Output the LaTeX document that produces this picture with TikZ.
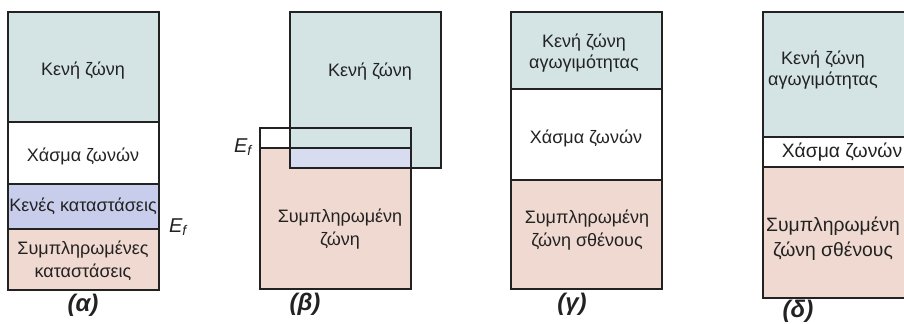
\documentclass[tikz,border=0pt]{standalone}
\usepackage{fontspec}
\setmainfont{Liberation Sans}
\definecolor{emptyband}{HTML}{D4E4E4}
\definecolor{emptystates}{HTML}{C9CDEC}
\definecolor{filledband}{HTML}{EFD9D0}
\definecolor{overlapband}{HTML}{D8DCF1}
\definecolor{ink}{HTML}{222222}
\begin{document}
\begin{tikzpicture}[x=0.75pt,y=-0.75pt,
  outline/.style={draw=ink,line width=1.1pt},
  txt/.style={font=\fontsize{13.5}{17.5}\selectfont,text=ink,align=center,inner sep=0pt},
  txttop/.style={txt,font=\fontsize{13.5}{15.5}\selectfont},
  txtbig/.style={txt,font=\fontsize{14.5}{18.5}\selectfont},
  caption/.style={font=\fontsize{18}{20}\selectfont\bfseries\itshape,text=ink,inner sep=0pt},
  fermi/.style={font=\fontsize{15}{17}\selectfont\itshape,text=ink,inner sep=0pt}]
\clip (0,0) rectangle (904,324);

% (a) metal: partly filled band
\fill[emptyband] (8,12) rectangle (159,122);
\fill[emptystates] (8,184) rectangle (159,229);
\fill[filledband] (8,229) rectangle (159,290);
\draw[outline] (8,12) rectangle (159,290);
\draw[outline] (8,122) -- (159,122);
\draw[outline] (8,184) -- (159,184);
\draw[outline] (8,229) -- (159,229);
\node[txt] (a1) at (83,71) {Κενή ζώνη};
\node[txt] (a2) at (83,156) {Χάσμα ζωνών};
\node[txt] (a3) at (83,206) {Κενές καταστάσεις};
\node[txt] (a4) at (83,261) {Συμπληρωμένες\\καταστάσεις};
\node[fermi] (aef) at (178,227) {E\textsubscript{f}};
\node[caption] (acap) at (83,305) {(α)};

% (b) overlapping bands
\fill[filledband] (260,148) rectangle (411,289);
\fill[emptyband] (290,12) rectangle (441,168);
\fill[overlapband] (290,148) rectangle (411,168);
\draw[outline] (290,12) rectangle (441,168);
\draw[outline] (260,128) rectangle (411,289);
\draw[outline] (260,148) -- (411,148);
\node[txt] (b1) at (370,72) {Κενή ζώνη};
\node[txt] (b2) at (340,229) {Συμπληρωμένη\\ζώνη};
\node[fermi] (bef) at (243,147) {E\textsubscript{f}};
\node[caption] (bcap) at (305,304) {(β)};

% (c) insulator: wide gap
\fill[emptyband] (511,12) rectangle (662,89);
\fill[filledband] (511,180) rectangle (662,289);
\draw[outline] (511,12) rectangle (662,289);
\draw[outline] (511,89) -- (662,89);
\draw[outline] (511,180) -- (662,180);
\node[txttop] (c1) at (584,53) {Κενή ζώνη\\αγωγιμότητας};
\node[txt] (c2) at (586,138) {Χάσμα ζωνών};
\node[txt] (c3) at (587,230) {Συμπληρωμένη\\ζώνη σθένους};
\node[caption] (ccap) at (572,304) {(γ)};

% (d) semiconductor: narrow gap
\fill[emptyband] (763,12) rectangle (914,137);
\fill[filledband] (763,167) rectangle (914,298);
\draw[outline] (763,12) rectangle (914,298);
\draw[outline] (763,137) -- (914,137);
\draw[outline] (763,167) -- (914,167);
\node[txttop] (d1) at (823,70) {Κενή ζώνη\\αγωγιμότητας};
\node[txtbig] (d2) at (842,152) {Χάσμα ζωνών};
\node[txtbig] (d3) at (833,239) {Συμπληρωμένη\\ζώνη σθένους};
\node[caption] (dcap) at (798,311) {(δ)};
\end{tikzpicture}
\end{document}
